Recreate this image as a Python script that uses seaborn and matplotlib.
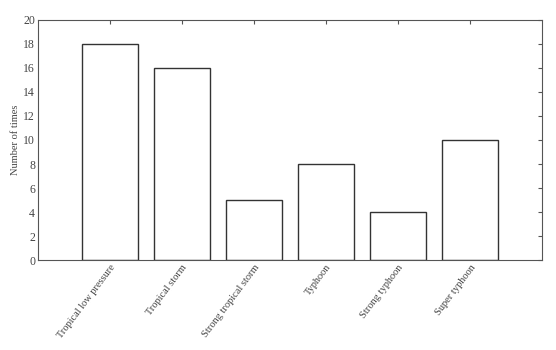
import numpy as np
import matplotlib
matplotlib.use('Agg')
import matplotlib.pyplot as plt
import pandas as pd
import seaborn as sns

# Data
categories = ['Tropical low pressure', 'Tropical storm', 'Strong tropical storm',
              'Typhoon', 'Strong typhoon', 'Super typhoon']
counts = [18, 16, 5, 8, 4, 10]
y_ticks = list(range(0, 21, 2))

DF = pd.DataFrame({'type': categories, 'count': counts})

sns.set_style('white')
plt.rcParams['font.family'] = ['Liberation Serif', 'DejaVu Serif']
plt.rcParams['font.size'] = 7.5

line_col = '#555555'
text_col = '#444444'

fig, ax = plt.subplots(figsize=(5.56, 3.5), dpi=100)
fig.subplots_adjust(left=0.068, right=0.975, top=0.943, bottom=0.257)

sns.barplot(data=DF, x='type', y='count', color='white', edgecolor='#333333',
            linewidth=1.0, width=0.78, ax=ax)

ax.set_xlim(-1, 6)
ax.set_ylim(0, 20)
ax.set_yticks(y_ticks)
ax.set_xlabel('')
ax.set_ylabel('Number of times', color=text_col, labelpad=2)

ax.tick_params(direction='in', length=3, width=0.8, color=line_col,
               labelcolor=text_col, top=True, right=True, pad=2)
ax.tick_params(axis='y', labelsize=8.5)
ax.set_xticks(range(len(categories)))
ax.set_xticklabels(categories, rotation=53, ha='right', rotation_mode='anchor')

for s in ax.spines.values():
    s.set_color(line_col)
    s.set_linewidth(0.8)

fig.savefig('out.png', dpi=100)
